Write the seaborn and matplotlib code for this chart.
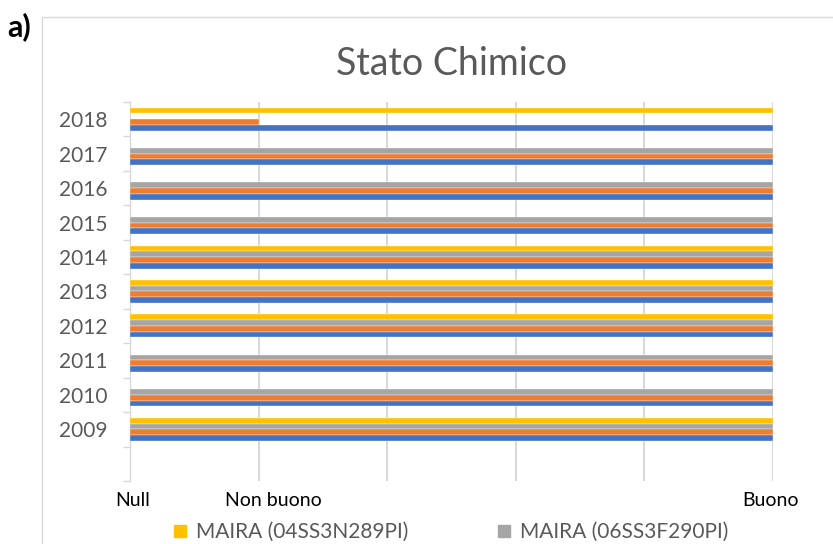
import matplotlib
matplotlib.use("Agg")
import matplotlib.pyplot as plt
from matplotlib.patches import Rectangle
from matplotlib.lines import Line2D
from matplotlib.transforms import ScaledTranslation
import numpy as np
import pandas as pd
import seaborn as sns

# Chemical status per year and monitoring station (0 = Null, 1 = Non buono, 5 = Buono)
years = ["2018", "2017", "2016", "2015", "2014", "2013", "2012", "2011", "2010", "2009"]
series_names = ["MAIRA (04SS3N289PI)", "MAIRA (06SS3F290PI)", "Serie 3", "Serie 4"]
maira_04ss3n289pi = [5, None, None, None, 5, 5, 5, None, None, 5]
maira_06ss3f290pi = [None, 5, 5, 5, 5, 5, 5, 5, 5, 5]
serie_3 = [1, 5, 5, 5, 5, 5, 5, 5, 5, 5]
serie_4 = [5, 5, 5, 5, 5, 5, 5, 5, 5, 5]
colors = ["#FFC000", "#A5A5A5", "#ED7D31", "#4472C4"]
x_tick_values = [0, 1, 2, 3, 4, 5]
x_tick_labels = ["Null", "Non buono", "", "", "", "Buono"]

rows = []
for name, vals in zip(series_names, [maira_04ss3n289pi, maira_06ss3f290pi, serie_3, serie_4]):
    for yr, v in zip(years, vals):
        if v is not None:
            rows.append({"Anno": yr, "Stazione": name, "Stato": v})
df = pd.DataFrame(rows)

sns.set_theme(style="white")
plt.rcParams["font.family"] = ["Lato", "DejaVu Sans"]

fig = plt.figure(figsize=(8.33, 5.44), dpi=100)
W, H = 833, 544
ax = fig.add_axes([130 / W, (H - 481) / H, 643 / W, 379 / H])

# Chart-area frame
fig.patches.append(Rectangle((42 / W, -0.1), 1.0, (H - 17) / H + 0.1,
                             transform=fig.transFigure, fill=False,
                             edgecolor="#D9D9D9", linewidth=1.0, zorder=0))

sns.barplot(data=df, x="Stato", y="Anno", hue="Stazione", order=years,
            hue_order=series_names, palette=colors, orient="h", saturation=1,
            width=0.667, errorbar=None, ax=ax, legend=False,
            edgecolor="#FFFFFF", linewidth=0.25, zorder=3)

ax.set_xlim(0, 5)
ax.set_ylim(10.5, -0.5)
ax.set_xticks(x_tick_values)
ax.set_xticklabels(x_tick_labels)
ax.set_xlabel("")
ax.set_ylabel("")
ax.xaxis.grid(True, color="#D9D9D9", linewidth=1.5, zorder=0)
ax.yaxis.grid(False)
ax.set_axisbelow(True)
for s in ["top", "right", "bottom"]:
    ax.spines[s].set_visible(False)
ax.spines["left"].set_color("#D9D9D9")
ax.spines["left"].set_linewidth(1.0)

# category boundary ticks on the y axis
ax.set_yticks(np.arange(len(years)))
ax.set_yticklabels(years, fontsize=15, color="#595959")
ax.set_yticks(np.arange(-0.5, 10.6, 1.0), minor=True)
ax.tick_params(axis="y", which="major", length=0, pad=16.5)
ax.tick_params(axis="y", which="minor", length=5, width=1.0, color="#D9D9D9", left=True)
ax.tick_params(axis="x", length=0, pad=8, labelsize=14, labelcolor="#000000")

# nudge the x labels to sit like the category text of the original layout
shifts = {"Null": 3, "Non buono": 15, "Buono": -3}
for lbl in ax.get_xticklabels():
    dx = shifts.get(lbl.get_text(), 0)
    lbl.set_transform(lbl.get_transform() + ScaledTranslation(dx / 100, 0, fig.dpi_scale_trans))

fig.text(452 / W, 1 - 64 / H, "Stato Chimico", ha="center", va="center",
         fontsize=27, color="#595959")
fig.text(7 / W, 1 - 27 / H, "a)", ha="left", va="center", fontsize=22,
         fontweight="bold", color="#000000")

handles = [Line2D([], [], marker="s", linestyle="", markersize=9,
                  markerfacecolor=c, markeredgecolor=c) for c in colors[:2]]
fig.legend(handles, series_names[:2], loc="center", ncol=2,
           bbox_to_anchor=(450 / W, 12 / H), frameon=False, fontsize=15,
           labelcolor="#595959", handletextpad=0.35, columnspacing=4.2,
           handlelength=0.8)

fig.savefig("out.png", dpi=100)
